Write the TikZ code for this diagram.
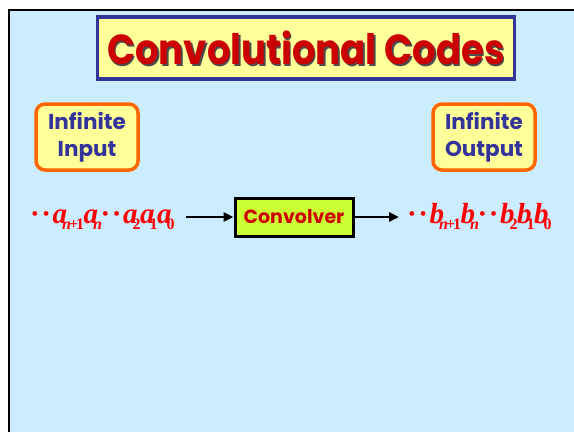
\documentclass[tikz,border=0pt]{standalone}
\usepackage{fontspec}
\setmainfont{Liberation Serif}
\newfontfamily\comicfont{Poppins}
\newfontfamily\headfont[FakeStretch=0.88]{Poppins}
\usetikzlibrary{arrows.meta,positioning}
\definecolor{panel}{HTML}{CCECFF}
\definecolor{navy}{HTML}{333399}
\definecolor{pale}{HTML}{FFFF99}
\definecolor{flame}{HTML}{FF6600}
\definecolor{lime}{HTML}{CCFF33}
\definecolor{crimson}{HTML}{CC0000}
\definecolor{seqred}{HTML}{FF0000}
% one term of a sequence, letter with a tight subscript
\newcommand\seqterm[2]{#1\kern-5pt\raisebox{-6.5pt}{\fontsize{16}{16}\selectfont #2}\kern-0.5pt}
\newcommand\seqdots{\textperiodcentered\kern4pt\textperiodcentered\kern3pt}
\newcommand\nplus{n\kern-2pt\upshape+\kern-2pt1}

\begin{document}
\begin{tikzpicture}[
  x=1pt,y=-1pt,
  label box/.style={draw=flame,fill=pale,line width=3.5pt,rounded corners=9pt,
                    minimum width=102pt,minimum height=66pt,align=center,
                    text=navy,font=\comicfont\bfseries\fontsize{21.5}{27}\selectfont},
  seq/.style={text=seqred,font=\bfseries\itshape\fontsize{29}{30}\selectfont,inner sep=0pt},
  flow/.style={-{Triangle[length=10pt,width=9pt]},line width=2.6pt,draw=black}
]
\useasboundingbox (0,0) rectangle (574,432);
\fill[white] (0,0) rectangle (574,432);

% slide panel
\fill[panel] (8,9) rectangle (574,432);
\draw[black,line width=2.2pt] (9,432)--(9,10)--(574,10);

% title
\node[draw=navy,fill=pale,line width=3.8pt,minimum width=417pt,minimum height=62pt,
      inner sep=0pt] (title) at (306,48) {};
\node[text=black!70,font=\headfont\bfseries\fontsize{42}{44}\selectfont]
  at ([xshift=1.6pt,yshift=-1.6pt]title.center) {Convolutional Codes};
\node[text=crimson,font=\headfont\bfseries\fontsize{42}{44}\selectfont]
  at (title.center) {Convolutional Codes};

% infinite input / output
\node[label box] (input) at (87,137) {Infinite\\Input};
\node[label box] (output) at (484,137) {Infinite\\Output};

% convolver row
\node[draw=black,fill=lime,line width=3pt,minimum width=118pt,minimum height=38pt,
      text=crimson,font=\comicfont\bfseries\fontsize{19}{22}\selectfont]
  (conv) at (294,217) {Convolver};
\node[seq,anchor=base west] (astream) at (31,223)
  {\seqdots\seqterm{a}{\nplus}\seqterm{a}{n}\seqdots\seqterm{a}{\upshape 2}\seqterm{a}{\upshape 1}\seqterm{a}{\upshape 0}};
\node[seq,anchor=base west] (bstream) at (408,223)
  {\seqdots\seqterm{b}{\nplus}\seqterm{b}{n}\seqdots\seqterm{b}{\upshape 2}\seqterm{b}{\upshape 1}\seqterm{b}{\upshape 0}};
\draw[flow] ([xshift=12pt]astream.east |- conv.west) -- (conv.west);
\draw[flow] (conv.east) -- ([xshift=-9pt]bstream.west |- conv.east);

\end{tikzpicture}
\end{document}
